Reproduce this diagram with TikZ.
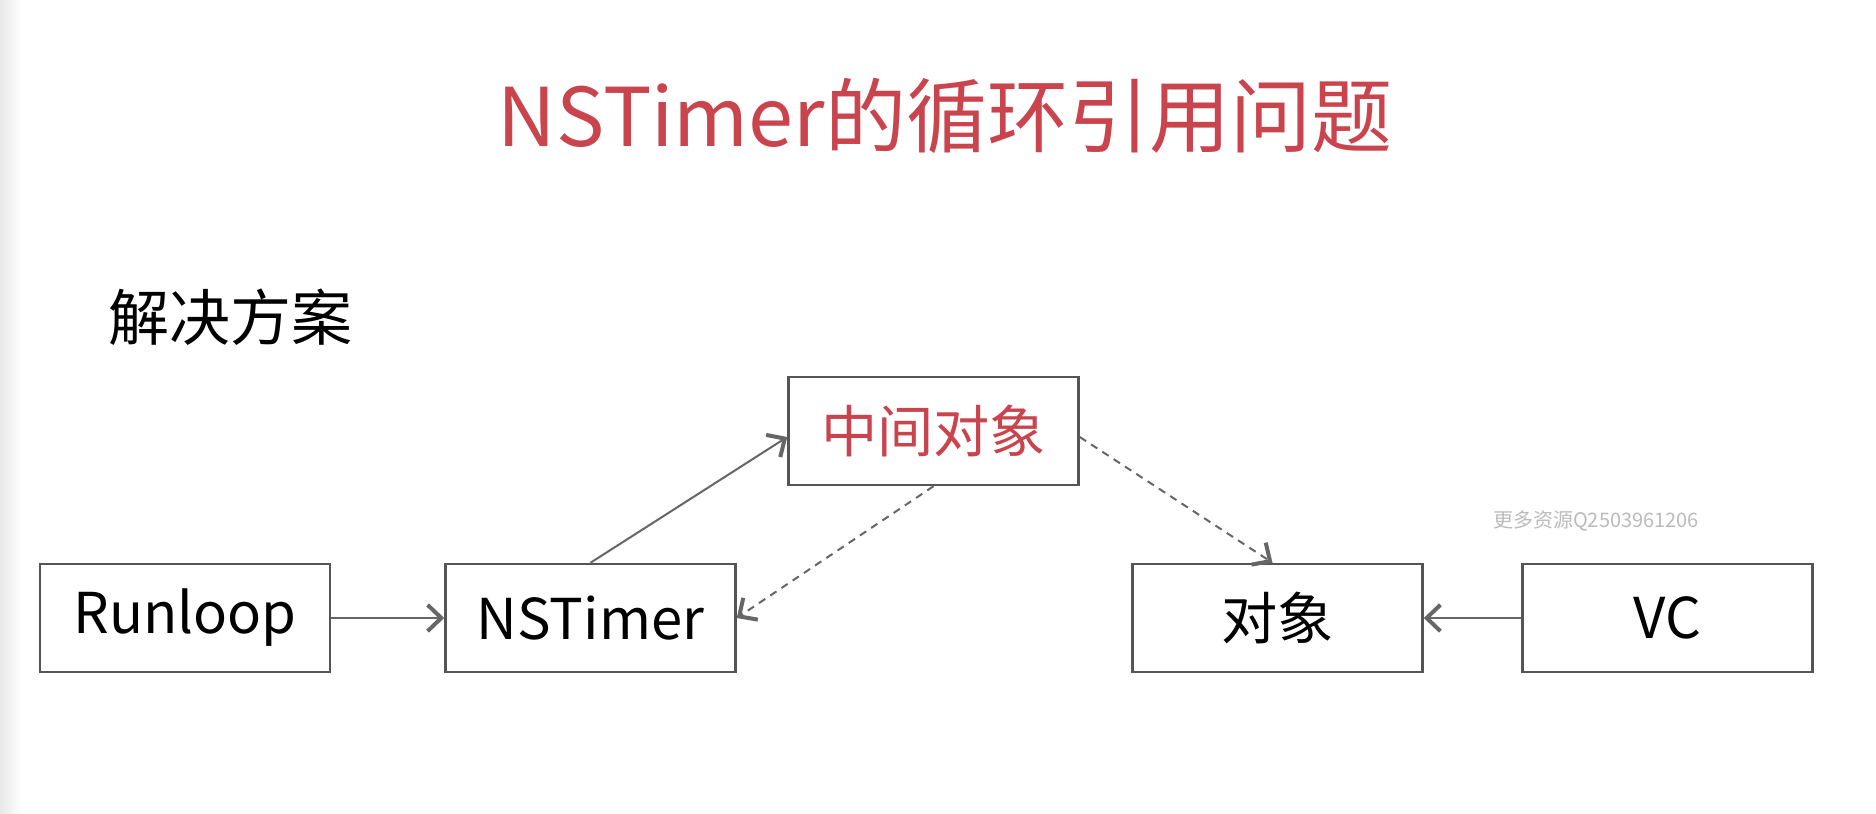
\documentclass[tikz,border=0pt]{standalone}
\usepackage{fontspec}
\setmainfont{Noto Sans CJK SC}
\usetikzlibrary{arrows.meta}
\definecolor{titlered}{HTML}{C9444D}
\definecolor{boxline}{HTML}{555555}
\definecolor{arrowgray}{HTML}{666666}
\definecolor{wmgray}{HTML}{BBBBBB}
\begin{document}
\begin{tikzpicture}[x=0.4pt,y=-0.4pt,
  box/.style={draw=boxline,line width=1pt,fill=white,minimum width=116pt,minimum height=43.2pt,inner sep=0pt,font=\fontsize{22.5}{26}\selectfont},
  conn/.style={draw=arrowgray,line width=0.8pt,-{Straight Barb[length=5.5pt,width=10.5pt,line width=1.6pt]}},
  dconn/.style={conn,dash pattern=on 3pt off 2.4pt}]
\useasboundingbox (0,0) rectangle (1876,814);
\fill[white] (0,0) rectangle (1876,814);
\shade[left color=black!9,right color=white] (0,0) rectangle (22,814);
\node[text=titlered,font=\fontsize{32.4}{36}\selectfont] (title) at (945,116) {NSTimer的循环引用问题};
\node[font=\fontsize{24.4}{28}\selectfont,anchor=west] (sol) at (100,317) {解决方案};
\node[box] (run) at (185,618) {\raisebox{-1.5pt}{Runloop}};
\node[box] (nst) at (590.5,618) {\raisebox{-1.5pt}{NSTimer}};
\node[box,text=titlered] (mid) at (933.5,431) {\raisebox{-1pt}{中间对象}};
\node[box] (obj) at (1277.5,618) {\raisebox{-1pt}{对象}};
\node[box] (vc) at (1667.5,618) {\raisebox{-1.5pt}{VC}};
\node[text=wmgray,font=\fontsize{8}{10}\selectfont] (wm) at (1596,521) {更多资源Q2503961206};
\draw[conn] (run.east) -- (nst.west);
\draw[conn] (nst.north) -- ([yshift=-2.4pt]mid.west);
\draw[dconn] (mid.south) -- (nst.east);
\draw[dconn] ([yshift=-2.4pt]mid.east) -- ([xshift=-2pt]obj.north);
\draw[conn] (vc.west) -- (obj.east);
\end{tikzpicture}
\end{document}
